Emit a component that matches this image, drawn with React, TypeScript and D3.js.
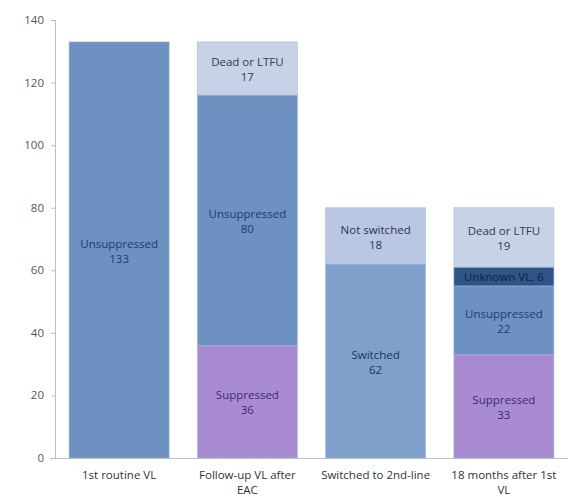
import React from "react";
import * as d3 from "d3";

const categories = [
  "1st routine VL",
  "Follow-up VL after EAC",
  "Switched to 2nd-line",
  "18 months after 1st VL",
];

const suppressed = [0, 36, 0, 33];
const unsuppressed = [133, 80, 0, 22];
const switched = [0, 0, 62, 0];
const unknownVL = [0, 0, 0, 6];
const notSwitched = [0, 0, 18, 0];
const deadLtfu = [0, 17, 0, 19];

const yTicks = [0, 20, 40, 60, 80, 100, 120, 140];

const seriesKeys = ["Suppressed", "Unsuppressed", "Switched", "Unknown VL", "Not switched", "Dead or LTFU"];
const seriesValues = [suppressed, unsuppressed, switched, unknownVL, notSwitched, deadLtfu];
const seriesFill: Record<string, string> = {
  Suppressed: "#a98bd1",
  Unsuppressed: "#6d91c0",
  Switched: "#80a0cc",
  "Unknown VL": "#2f5486",
  "Not switched": "#b9c7e3",
  "Dead or LTFU": "#c7d2e7",
};
const seriesText: Record<string, string> = {
  Suppressed: "#3c2a78",
  Unsuppressed: "#1e3a78",
  Switched: "#1e3060",
  "Unknown VL": "#0e1f44",
  "Not switched": "#2a3550",
  "Dead or LTFU": "#333a48",
};

const W = 568;
const H = 497;
const FONT = "'Open Sans', 'DejaVu Sans', sans-serif";

function wrapWords(text: string, maxW: number, font: string): string[] {
  const ctx = document.createElement("canvas").getContext("2d")!;
  ctx.font = font;
  const words = text.split(" ");
  const lines: string[] = [];
  let cur = "";
  for (const w of words) {
    const t = cur ? cur + " " + w : w;
    if (ctx.measureText(t).width > maxW && cur) {
      lines.push(cur);
      cur = w;
    } else cur = t;
  }
  if (cur) lines.push(cur);
  return lines;
}

export default function App() {
  const rows = categories.map((c, i) => {
    const r: any = { category: c };
    seriesKeys.forEach((k, j) => (r[k] = seriesValues[j][i]));
    return r;
  });
  const stacked = d3.stack<any>().keys(seriesKeys)(rows);

  const x = d3.scaleBand<string>().domain(categories).range([55, 568]).paddingInner(0.22).paddingOuter(0.11);
  const y = d3.scaleLinear().domain([0, 140]).range([458, 20]);

  return (
    <svg width={W} height={H} style={{ position: "absolute", left: 0, top: 0, background: "#fff" }}>
      {/* value axis */}
      <line x1={55.5} x2={55.5} y1={y(140)} y2={y(0)} stroke="#bfbfbf" />
      {yTicks.map((t) => (
        <g key={t}>
          <line x1={51} x2={55.5} y1={y(t) + 0.5} y2={y(t) + 0.5} stroke="#bfbfbf" />
          <text x={44} y={y(t)} dy="0.35em" textAnchor="end" fontSize={11.5} fontFamily={FONT} fill="#555">
            {t}
          </text>
        </g>
      ))}

      {/* stacked bars */}
      {stacked.map((s) =>
        s.map((d, i) => {
          const v = d[1] - d[0];
          if (v <= 0) return null;
          const cat = categories[i];
          const x0 = x(cat)!;
          const bw = x.bandwidth();
          const top = y(d[1]);
          const h = y(d[0]) - y(d[1]);
          const cx = x0 + bw / 2;
          const cy = (y(d[0]) + y(d[1])) / 2;
          const oneLine = s.key === "Unknown VL";
          return (
            <g key={s.key + i}>
              <rect x={x0} y={top} width={bw} height={h} fill={seriesFill[s.key]} stroke="#9fb6d8" strokeWidth={0.8} strokeOpacity={0.7} />
              {oneLine ? (
                <text x={cx} y={cy} dy="0.35em" textAnchor="middle" fontSize={11.5} fontFamily={FONT} fill={seriesText[s.key]}>
                  {`${s.key}, ${v}`}
                </text>
              ) : (
                <text x={cx} y={cy} textAnchor="middle" fontSize={11.5} fontFamily={FONT} fill={seriesText[s.key]}>
                  <tspan x={cx} dy="-0.2em">{s.key}</tspan>
                  <tspan x={cx} dy="1.3em">{v}</tspan>
                </text>
              )}
            </g>
          );
        })
      )}

      {/* category axis */}
      <line x1={50} x2={568} y1={y(0) + 0.5} y2={y(0) + 0.5} stroke="#bfbfbf" />
      {categories.map((c) => {
        const cx = x(c)! + x.bandwidth() / 2;
        const lines = wrapWords(c, 118, `11.5px ${FONT}`);
        return (
          <text key={c} x={cx} y={479} textAnchor="middle" fontSize={11.5} fontFamily={FONT} fill="#333">
            {lines.map((l, k) => (
              <tspan key={k} x={cx} dy={k === 0 ? 0 : 15}>
                {l}
              </tspan>
            ))}
          </text>
        );
      })}
    </svg>
  );
}
